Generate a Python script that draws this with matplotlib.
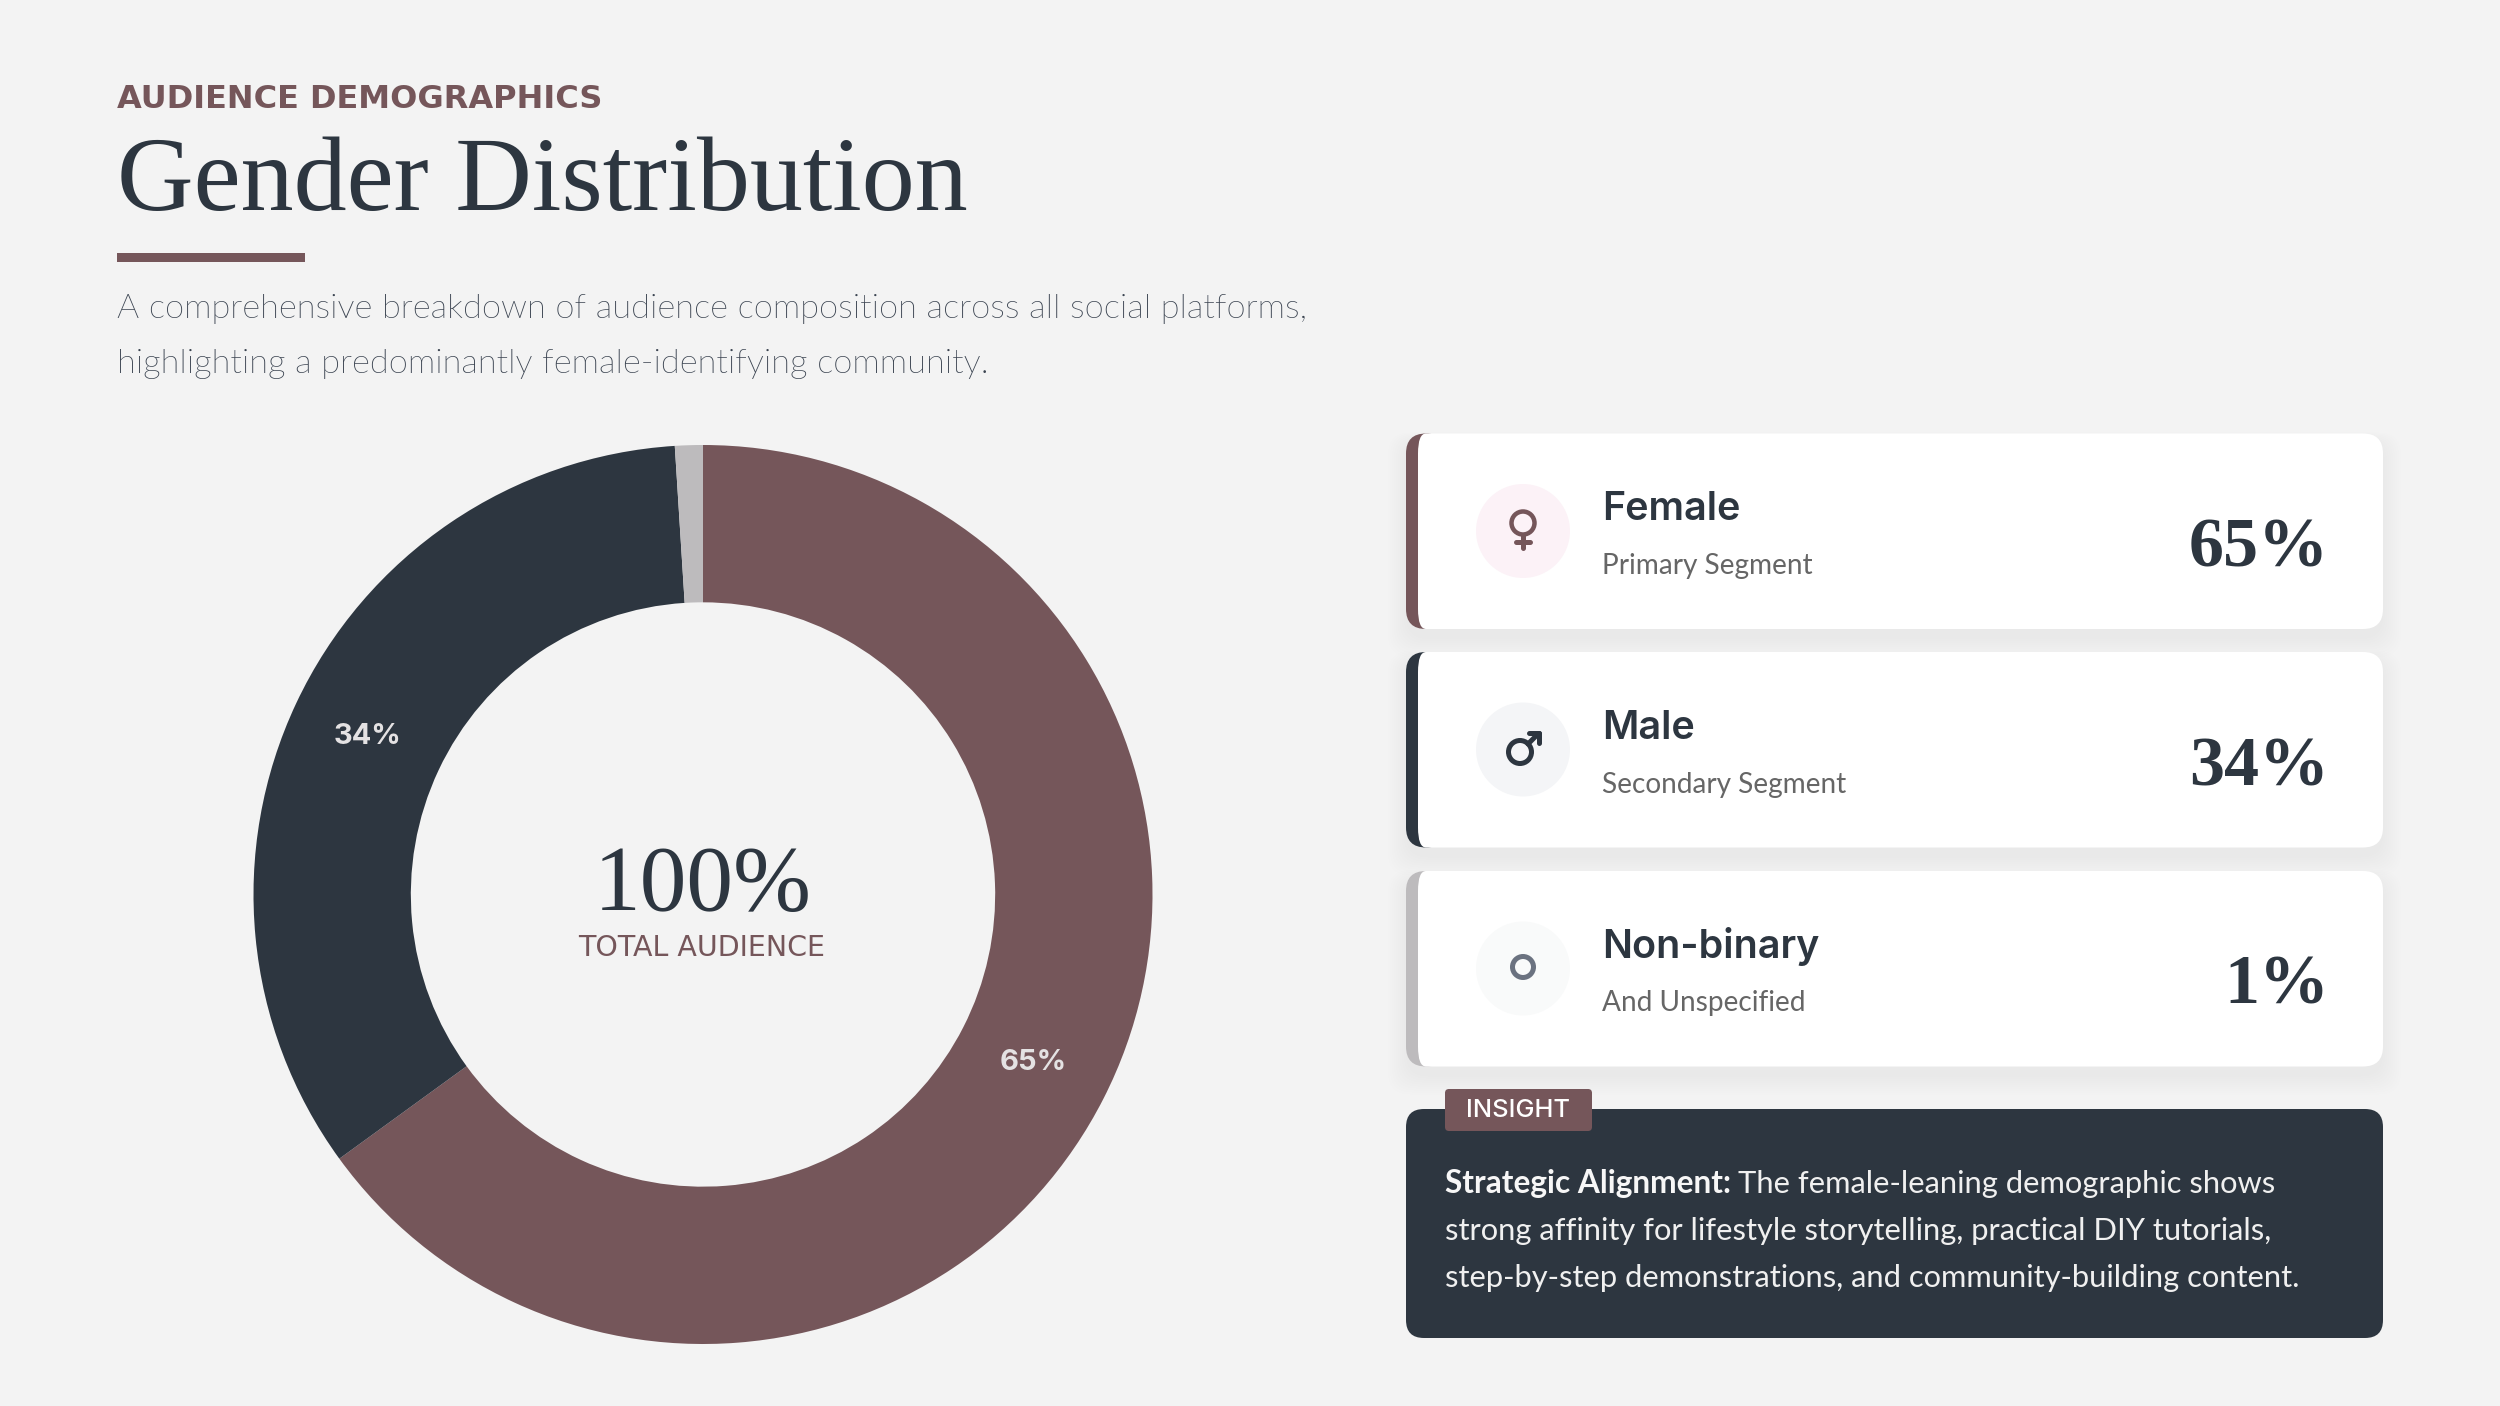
import matplotlib
matplotlib.use('Agg')
import matplotlib.pyplot as plt
from matplotlib import font_manager
from matplotlib.patches import FancyBboxPatch, Circle, Rectangle, PathPatch
from matplotlib.path import Path

# data
segment_names = ["Female", "Male", "Non-binary"]
segment_subs = ["Primary Segment", "Secondary Segment", "And Unspecified"]
segment_values = [65, 34, 1]
segment_labels = ["65%", "34%", "1%"]

insight_lines = ["strong affinity for lifestyle storytelling, practical DIY tutorials,",
	"step-by-step demonstrations, and community-building content."]

BROWN = "#75565A"
DARK = "#2D3640"
GREY = "#BDBBBD"
BG = "#F3F3F3"
seg_colors = [BROWN, DARK, GREY]
circle_colors = ["#FCF2F7", "#F4F5F7", "#F9FAFA"]

def px(v):
	return v * 0.72

def round_box(ax, x0, y0, x1, y1, r, **kw):
	p = FancyBboxPatch((x0 + r, y0 + r), x1 - x0 - 2 * r, y1 - y0 - 2 * r,
		boxstyle="round,pad=%f,rounding_size=%f" % (r, r), linewidth=0, **kw)
	ax.add_patch(p)
	return p

def card_face(ax, x0, y0, x1, y1):
	# left corners are narrow because of the coloured border
	verts = [(x0 + 8, y0), (x1 - 20, y0), (x1, y0), (x1, y0 + 20), (x1, y1 - 20), (x1, y1), (x1 - 20, y1),
		(x0 + 8, y1), (x0, y1), (x0, y1 - 20), (x0, y0 + 20), (x0, y0), (x0 + 8, y0), (x0 + 8, y0)]
	codes = [Path.MOVETO, Path.LINETO, Path.CURVE3, Path.CURVE3, Path.LINETO, Path.CURVE3, Path.CURVE3,
		Path.LINETO, Path.CURVE3, Path.CURVE3, Path.LINETO, Path.CURVE3, Path.CURVE3, Path.CLOSEPOLY]
	ax.add_patch(PathPatch(Path(verts, codes), facecolor="white", linewidth=0, zorder=3))

def ring(ax, x, y, r, lw, color):
	ax.add_patch(Circle((x, y), r, fill=False, edgecolor=color, linewidth=px(lw), zorder=5))

def stroke(ax, xs, ys, lw, color):
	ax.plot(xs, ys, color=color, linewidth=px(lw), solid_capstyle='round', zorder=5)

def lato_light():
	# weight='light' ends up on the hairline cut, so go through the file
	for f in font_manager.fontManager.ttflist:
		if f.name == "Lato" and "Light" in f.fname and "Italic" not in f.fname:
			return font_manager.FontProperties(fname=f.fname, size=px(34.5))
	return font_manager.FontProperties(family="Lato", size=px(34.5))

fig = plt.figure(figsize=(25.0, 14.06), dpi=100, facecolor=BG)

ax = fig.add_axes([0, 0, 1, 1])
ax.set_xlim(0, 2500)
ax.set_ylim(1406, 0)
ax.axis('off')

# header
ax.text(117, 108, "AUDIENCE DEMOGRAPHICS", fontsize=px(32), family="DejaVu Sans", weight='bold', color=BROWN)
ax.text(117, 210, "Gender Distribution", fontsize=px(106), family="Liberation Serif", color=DARK)
ax.add_patch(Rectangle((117, 253), 188, 9, color=BROWN, linewidth=0))
light = lato_light()
ax.text(117, 318, "A comprehensive breakdown of audience composition across all social platforms,",
	fontproperties=light, color="#3A4350")
ax.text(117, 373, "highlighting a predominantly female-identifying community.",
	fontproperties=light, color="#3A4350")

# cards
tops = [433.5, 652, 871]
for i in range(0, 3):
	t = tops[i]
	b = t + 195.5
	for s in range(0, 10):
		round_box(ax, 1406 - s * 2, t + 8 - s, 2383 + s * 2, b + 10 + s * 2, 22, color="black", alpha=0.004, zorder=1)
	round_box(ax, 1406, t, 1446, b, 20, color=seg_colors[i], zorder=2)
	card_face(ax, 1418, t, 2383, b)
	ax.add_patch(Circle((1523, t + 97.5), 47, color=circle_colors[i], linewidth=0, zorder=4))
	ax.text(1602, t + 87, segment_names[i], fontsize=px(39.5), family="Inter", weight='semibold', color=DARK, zorder=5)
	ax.text(1602, t + 140.5, segment_subs[i], fontsize=px(28), family="Lato", color="#666666", zorder=5)
	ax.text(2329, t + 133, segment_labels[i], fontsize=px(70), family="Liberation Serif", weight='bold',
		ha='right', color=DARK, zorder=5)

# icons
ring(ax, 1523, 523, 11.5, 4.5, BROWN)
stroke(ax, [1523, 1523], [535, 548], 5, BROWN)
stroke(ax, [1516, 1530], [542, 542], 5, BROWN)

ring(ax, 1520, 752, 11.5, 5, DARK)
stroke(ax, [1528, 1538], [744, 734], 5, DARK)
stroke(ax, [1529, 1539], [733, 733], 5, DARK)
stroke(ax, [1539, 1539], [733, 743], 5, DARK)

ring(ax, 1523, 967, 10.5, 5, "#6B7280")

# insight box
round_box(ax, 1406, 1109, 2383, 1338, 18, color=DARK, zorder=2)
round_box(ax, 1445, 1089, 1592, 1131, 4, color=BROWN, zorder=3)
ax.text(1518, 1117, "INSIGHT", fontsize=px(25.5), family="Inter", weight='medium', ha='center', color="white", zorder=5)
ax.text(1445, 1193, "Strategic Alignment:", fontsize=px(31.7), family="Lato", weight='bold', color="#F7F7F7", zorder=5)
ax.text(1738, 1193, "The female-leaning demographic shows", fontsize=px(30.9), family="Lato", color="#F0F0F0", zorder=5)
ax.text(1445, 1240, insight_lines[0], fontsize=px(30.9), family="Lato", color="#F0F0F0", zorder=5)
ax.text(1445, 1287, insight_lines[1], fontsize=px(30.9), family="Lato", color="#F0F0F0", zorder=5)

# donut
cx = 703.0
cy = 894.5
R = 449.5
ax_pie = fig.add_axes([(cx - R) / 2500, (1406 - cy - R) / 1406, 2 * R / 2500, 2 * R / 1406])
ax_pie.patch.set_alpha(0)


def pct_label(p):
	if p > 5:
		return "%d%%" % round(p)
	return ""


wedges, texts, autotexts = ax_pie.pie(segment_values, colors=seg_colors, startangle=90, counterclock=False,
	radius=1.0, wedgeprops={'width': 0.35, 'linewidth': 0}, autopct=pct_label, pctdistance=0.825)
for t in autotexts:
	t.set_fontsize(px(29))
	t.set_family("Inter")
	t.set_weight('bold')
	t.set_color("#E4E2E3")
ax_pie.set_xlim(-1, 1)
ax_pie.set_ylim(-1, 1)

ax.text(703, 910, "100%", fontsize=px(93.5), family="Liberation Serif", ha='center', color=DARK)
ax.text(701.5, 955.5, "TOTAL AUDIENCE", fontsize=px(28.5), family="DejaVu Sans", ha='center', color=BROWN)

plt.savefig("out.png", dpi=100, facecolor=BG)
